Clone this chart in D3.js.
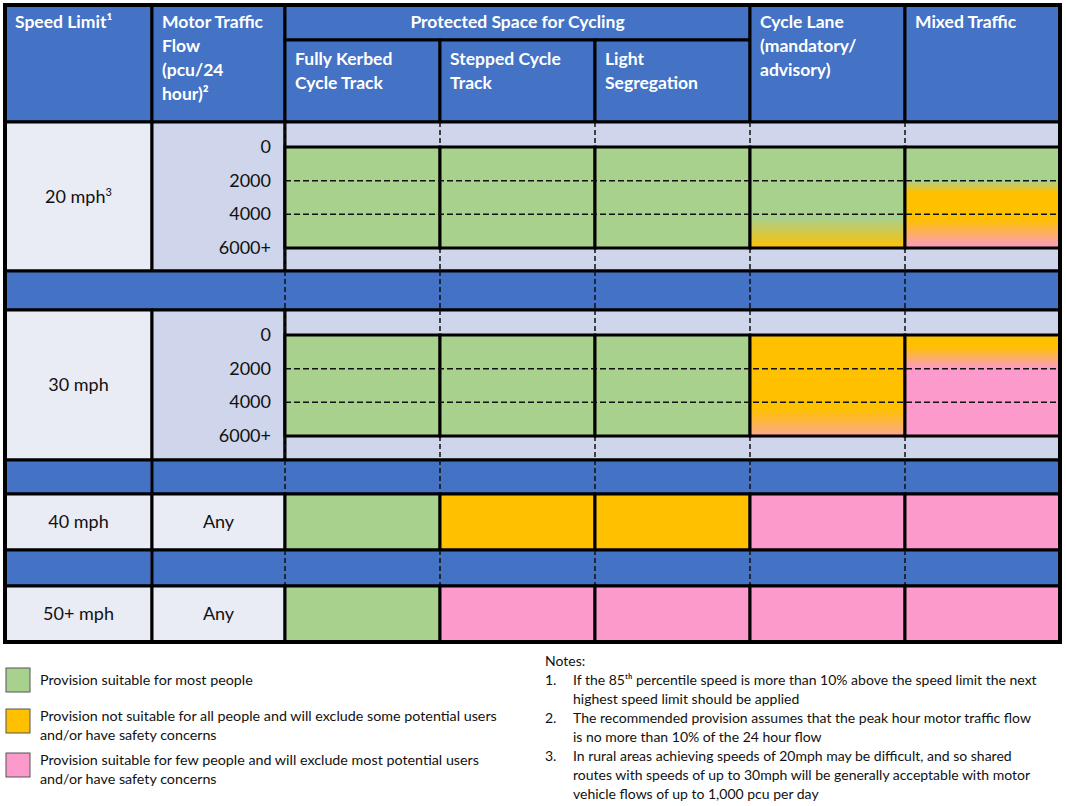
<!DOCTYPE html>
<html><head><meta charset="utf-8">
<script src="https://cdn.jsdelivr.net/npm/d3@7"></script>
<style>body{margin:0;background:#fff}svg{font-family:Lato,"Open Sans",sans-serif}</style>
</head><body><svg id="c" width="1066" height="806"></svg>
<script>
const G = '#a9d18e', O = '#ffc000', P = '#fb9acb', PO = '#fca98f';
const columns = ['speed', 'flow', 'kerbed', 'stepped', 'light', 'lane', 'mixed'];
const columnWidths = [147, 133, 155, 155, 155, 155, 155];
const headers = [
  ['Speed Limit¹'], ['Motor Traffic', 'Flow', '(pcu/24', 'hour)²'],
  ['Fully Kerbed', 'Cycle Track'], ['Stepped Cycle', 'Track'], ['Light', 'Segregation'],
  ['Cycle Lane', '(mandatory/', 'advisory)'], ['Mixed Traffic']
];
const flowTicks = [0, 2000, 4000, 6000];
const flowLabels = ['0', '2000', '4000', '6000+'];
const speeds = ['20 mph', '30 mph', '40 mph', '50+ mph'];
const speedSup = ['3', '', '', ''];
// gradient stops [flow, colour] per cycling column, for the flow-dependent speeds
const stops20 = [
  [[0, G], [6000, G]], [[0, G], [6000, G]], [[0, G], [6000, G]],
  [[0, G], [4200, G], [6000, O]],
  [[0, G], [2000, G], [2700, O], [4300, O], [6000, P]]
];
const stops30 = [
  [[0, G], [6000, G]], [[0, G], [6000, G]], [[0, G], [6000, G]],
  [[0, O], [4400, O], [6000, PO]],
  [[0, O], [700, O], [2000, P], [6000, P]]
];
const flat40 = [G, O, O, P, P];
const flat50 = [G, P, P, P, P];
const legendColors = [G, O, P];
const legendText = [
  ['Provision suitable for most people'],
  ['Provision not suitable for all people and will exclude some potential users', 'and/or have safety concerns'],
  ['Provision suitable for few people and will exclude most potential users', 'and/or have safety concerns']
];
const notes = [
  ['If the 85ᵗʰ percentile speed is more than 10% above the speed limit the next', 'highest speed limit should be applied'],
  ['The recommended provision assumes that the peak hour motor traffic flow', 'is no more than 10% of the 24 hour flow'],
  ['In rural areas achieving speeds of 20mph may be difficult, and so shared', 'routes with speeds of up to 30mph will be generally acceptable with motor', 'vehicle flows of up to 1,000 pcu per day']
];

const BLUE = '#4472c4', BAND = '#cfd5ea', PALE = '#e9ebf5';
const svg = d3.select('#c');
const left = 5;
const edges = d3.cumsum([left, ...columnWidths]);
const x = d3.scaleOrdinal(columns, Array.from(edges).slice(0, -1));
const w = d3.scaleOrdinal(columns, columnWidths);
const right = edges[edges.length - 1];
const cyc = columns.slice(2);

function cell(c, y0, h, fill, sw = 3) {
  return svg.append('rect').attr('x', x(c)).attr('y', y0).attr('width', w(c)).attr('height', h)
    .attr('fill', fill).attr('stroke', '#000').attr('stroke-width', sw);
}
function txt(s, xx, yy, opt = {}) {
  return svg.append('text').attr('x', xx).attr('y', yy).attr('font-size', opt.size || 17.5)
    .attr('font-weight', opt.bold ? 700 : 400).attr('fill', opt.fill || '#111')
    .attr('text-anchor', opt.anchor || 'start').text(s);
}
function dashV(xx, y0, y1) {
  svg.append('line').attr('x1', xx).attr('x2', xx).attr('y1', y0).attr('y2', y1)
    .attr('stroke', '#111').attr('stroke-width', 1.5).attr('stroke-dasharray', '5,3');
}
function dashH(yy) {
  svg.append('line').attr('x1', x('kerbed')).attr('x2', right).attr('y1', yy).attr('y2', yy)
    .attr('stroke', '#111').attr('stroke-width', 1.5).attr('stroke-dasharray', '6,3');
}

// header
const hTop = 5, hBot = 122, subTop = 40;
['speed', 'flow'].forEach((c, i) => {
  cell(c, hTop, hBot - hTop, BLUE);
  headers[i].forEach((s, j) => txt(s, x(c) + 10, 28 + j * 24, { bold: true, fill: '#fff' }));
});
svg.append('rect').attr('x', x('kerbed')).attr('y', hTop).attr('width', w('kerbed') * 3).attr('height', subTop - hTop)
  .attr('fill', BLUE).attr('stroke', '#000').attr('stroke-width', 3);
txt('Protected Space for Cycling', x('kerbed') + w('kerbed') * 1.5, 28, { bold: true, fill: '#fff', anchor: 'middle' });
['kerbed', 'stepped', 'light'].forEach((c, i) => {
  cell(c, subTop, hBot - subTop, BLUE);
  headers[i + 2].forEach((s, j) => txt(s, x(c) + 10, 65 + j * 24, { bold: true, fill: '#fff' }));
});
['lane', 'mixed'].forEach((c, i) => {
  cell(c, hTop, hBot - hTop, BLUE);
  headers[i + 5].forEach((s, j) => txt(s, x(c) + 10, 28 + j * 24, { bold: true, fill: '#fff' }));
});

const defs = svg.append('defs');
function flowBlock(top, bottom, si, stops) {
  const y = d3.scaleLinear([0, 6000], [top + 25, top + 126]);
  cell('speed', top, bottom - top, PALE);
  cell('flow', top, bottom - top, BAND);
  const t = txt(speeds[si], x('speed') + w('speed') / 2, (top + bottom) / 2 + 6, { size: 18, anchor: 'middle' });
  if (speedSup[si]) t.append('tspan').attr('font-size', 11).attr('dy', -7).text(speedSup[si]);
  flowTicks.forEach((f, i) => txt(flowLabels[i], x('flow') + w('flow') - 14, y(f) + 6, { size: 18, anchor: 'end' }));
  svg.append('rect').attr('x', x('kerbed')).attr('y', top).attr('width', right - x('kerbed')).attr('height', bottom - top)
    .attr('fill', BAND).attr('stroke', '#000').attr('stroke-width', 3);
  cyc.forEach((c, i) => {
    if (i > 0) { dashV(x(c), top, y(0)); dashV(x(c), y(6000), bottom); }
    const id = `g${si}${i}`;
    const lg = defs.append('linearGradient').attr('id', id).attr('gradientUnits', 'userSpaceOnUse')
      .attr('x1', 0).attr('x2', 0).attr('y1', y(0)).attr('y2', y(6000));
    lg.selectAll('stop').data(stops[i]).join('stop')
      .attr('offset', d => d[0] / 6000).attr('stop-color', d => d[1]);
    cell(c, y(0), y(6000) - y(0), `url(#${id})`);
  });
  dashV(x('kerbed'), top, y(0)); dashV(x('kerbed'), y(6000), bottom);
  dashH(y(2000)); dashH(y(4000));
}
function blueBand(top, bottom, split) {
  svg.append('rect').attr('x', left).attr('y', top).attr('width', right - left).attr('height', bottom - top)
    .attr('fill', BLUE).attr('stroke', '#000').attr('stroke-width', 3);
  if (split) svg.append('line').attr('x1', x('flow')).attr('x2', x('flow')).attr('y1', top).attr('y2', bottom)
    .attr('stroke', '#000').attr('stroke-width', 3);
  cyc.forEach(c => dashV(x(c), top, bottom));
}
function flatRow(top, bottom, si, fills) {
  cell('speed', top, bottom - top, PALE);
  cell('flow', top, bottom - top, PALE);
  txt(speeds[si], x('speed') + w('speed') / 2, (top + bottom) / 2 + 6, { size: 18, anchor: 'middle' });
  txt('Any', x('flow') + w('flow') / 2, (top + bottom) / 2 + 6, { size: 18, anchor: 'middle' });
  cyc.forEach((c, i) => cell(c, top, bottom - top, fills[i]));
}

flowBlock(122, 271, 0, stops20);
blueBand(271, 310, false);
flowBlock(310, 460, 1, stops30);
blueBand(460, 494, true);
flatRow(494, 550, 2, flat40);
blueBand(550, 586, true);
flatRow(586, 642, 3, flat50);
svg.append('rect').attr('x', left).attr('y', hTop).attr('width', right - left).attr('height', 642 - hTop)
  .attr('fill', 'none').attr('stroke', '#000').attr('stroke-width', 4);

// legend
const legY = [668, 709, 753];
legendColors.forEach((col, i) => {
  svg.append('rect').attr('x', 6).attr('y', legY[i]).attr('width', 24).attr('height', 24)
    .attr('fill', col).attr('stroke', '#555').attr('stroke-width', 1);
  legendText[i].forEach((s, j) => txt(s, 40, legY[i] + (legendText[i].length === 1 ? 17 : 12) + j * 19, { size: 14.3 }));
});

// notes
txt('Notes:', 545, 666, { size: 14 });
let ny = 685;
notes.forEach((n, i) => {
  txt(`${i + 1}.`, 545, ny, { size: 14 });
  n.forEach(s => { txt(s, 573, ny, { size: 14 }); ny += 19; });
});
</script></body></html>
